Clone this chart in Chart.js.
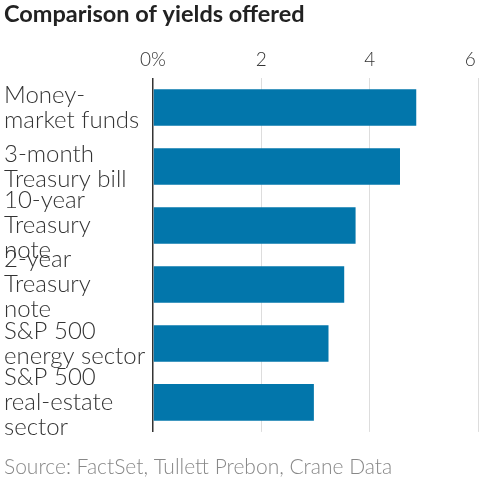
<!DOCTYPE html>
<html>
<head>
<meta charset="utf-8">
<script src="https://cdn.jsdelivr.net/npm/chart.js@4"></script>
<style>
html,body{margin:0;padding:0;background:#fff;}
#wrap{width:480px;height:480px;}
</style>
</head>
<body>
<div id="wrap"><canvas id="c" width="480" height="480"></canvas></div>
<script>
const categories = [
  ["Money-", "market funds"],
  ["3-month", "Treasury bill"],
  ["10-year", "Treasury", "note"],
  ["2-year", "Treasury", "note"],
  ["S&P 500", "energy sector"],
  ["S&P 500", "real-estate", "sector"]
];
const yields = [4.86, 4.56, 3.74, 3.53, 3.24, 2.97];
const xTicks = [0, 2, 4, 6];
const titleText = "Comparison of yields offered";
const sourceText = "Source: FactSet, Tullett Prebon, Crane Data";

const FONT = "Lato";

new Chart(document.getElementById('c'), {
  type: 'bar',
  data: {
    labels: categories,
    datasets: [{
      data: yields,
      backgroundColor: '#0276ab',
      borderWidth: 0,
      categoryPercentage: 1,
      barPercentage: 0.62
    }]
  },
  options: {
    indexAxis: 'y',
    responsive: false,
    animation: false,
    devicePixelRatio: 1,
    layout: { padding: { left: 4, right: 2, top: 0, bottom: 0 } },
    plugins: {
      legend: { display: false },
      tooltip: { enabled: false },
      title: {
        display: true,
        text: titleText,
        align: 'start',
        color: '#222',
        font: { family: FONT, size: 23.5, weight: 'bold', lineHeight: 1.2 },
        padding: { top: 0, bottom: 13 }
      },
      subtitle: {
        display: true,
        text: sourceText,
        position: 'bottom',
        align: 'start',
        color: '#888',
        font: { family: FONT, size: 21, weight: '300', lineHeight: 1.1 },
        padding: { top: 24, bottom: 1 }
      }
    },
    scales: {
      x: {
        position: 'top',
        min: 0,
        max: 6,
        afterBuildTicks: (s) => { s.ticks = xTicks.map(v => ({ value: v })); },
        afterFit: (s) => { s.paddingRight = 0; s.paddingLeft = 0; },
        ticks: {
          color: '#333',
          font: { family: FONT, size: 19, weight: '300' },
          padding: 7,
          callback: (v) => {
            if (v === 0) return '0%';
            if (v === xTicks[xTicks.length - 1]) return String(v) + '\u00a0\u00a0\u00a0';
            return String(v);
          }
        },
        grid: {
          drawTicks: false,
          color: (ctx) => (ctx.tick && ctx.tick.value === 0) ? '#333' : '#dddddd',
          lineWidth: (ctx) => (ctx.tick && ctx.tick.value === 0) ? 1.5 : 1
        },
        border: { display: false }
      },
      y: {
        afterFit: (s) => { s.width = 149; },
        ticks: {
          crossAlign: 'far',
          color: '#333',
          padding: 0,
          autoSkip: false,
          font: { family: FONT, size: 24, weight: '300', lineHeight: 1.04 }
        },
        grid: { display: false, drawTicks: false },
        border: { display: false }
      }
    }
  }
});
</script>
</body>
</html>
